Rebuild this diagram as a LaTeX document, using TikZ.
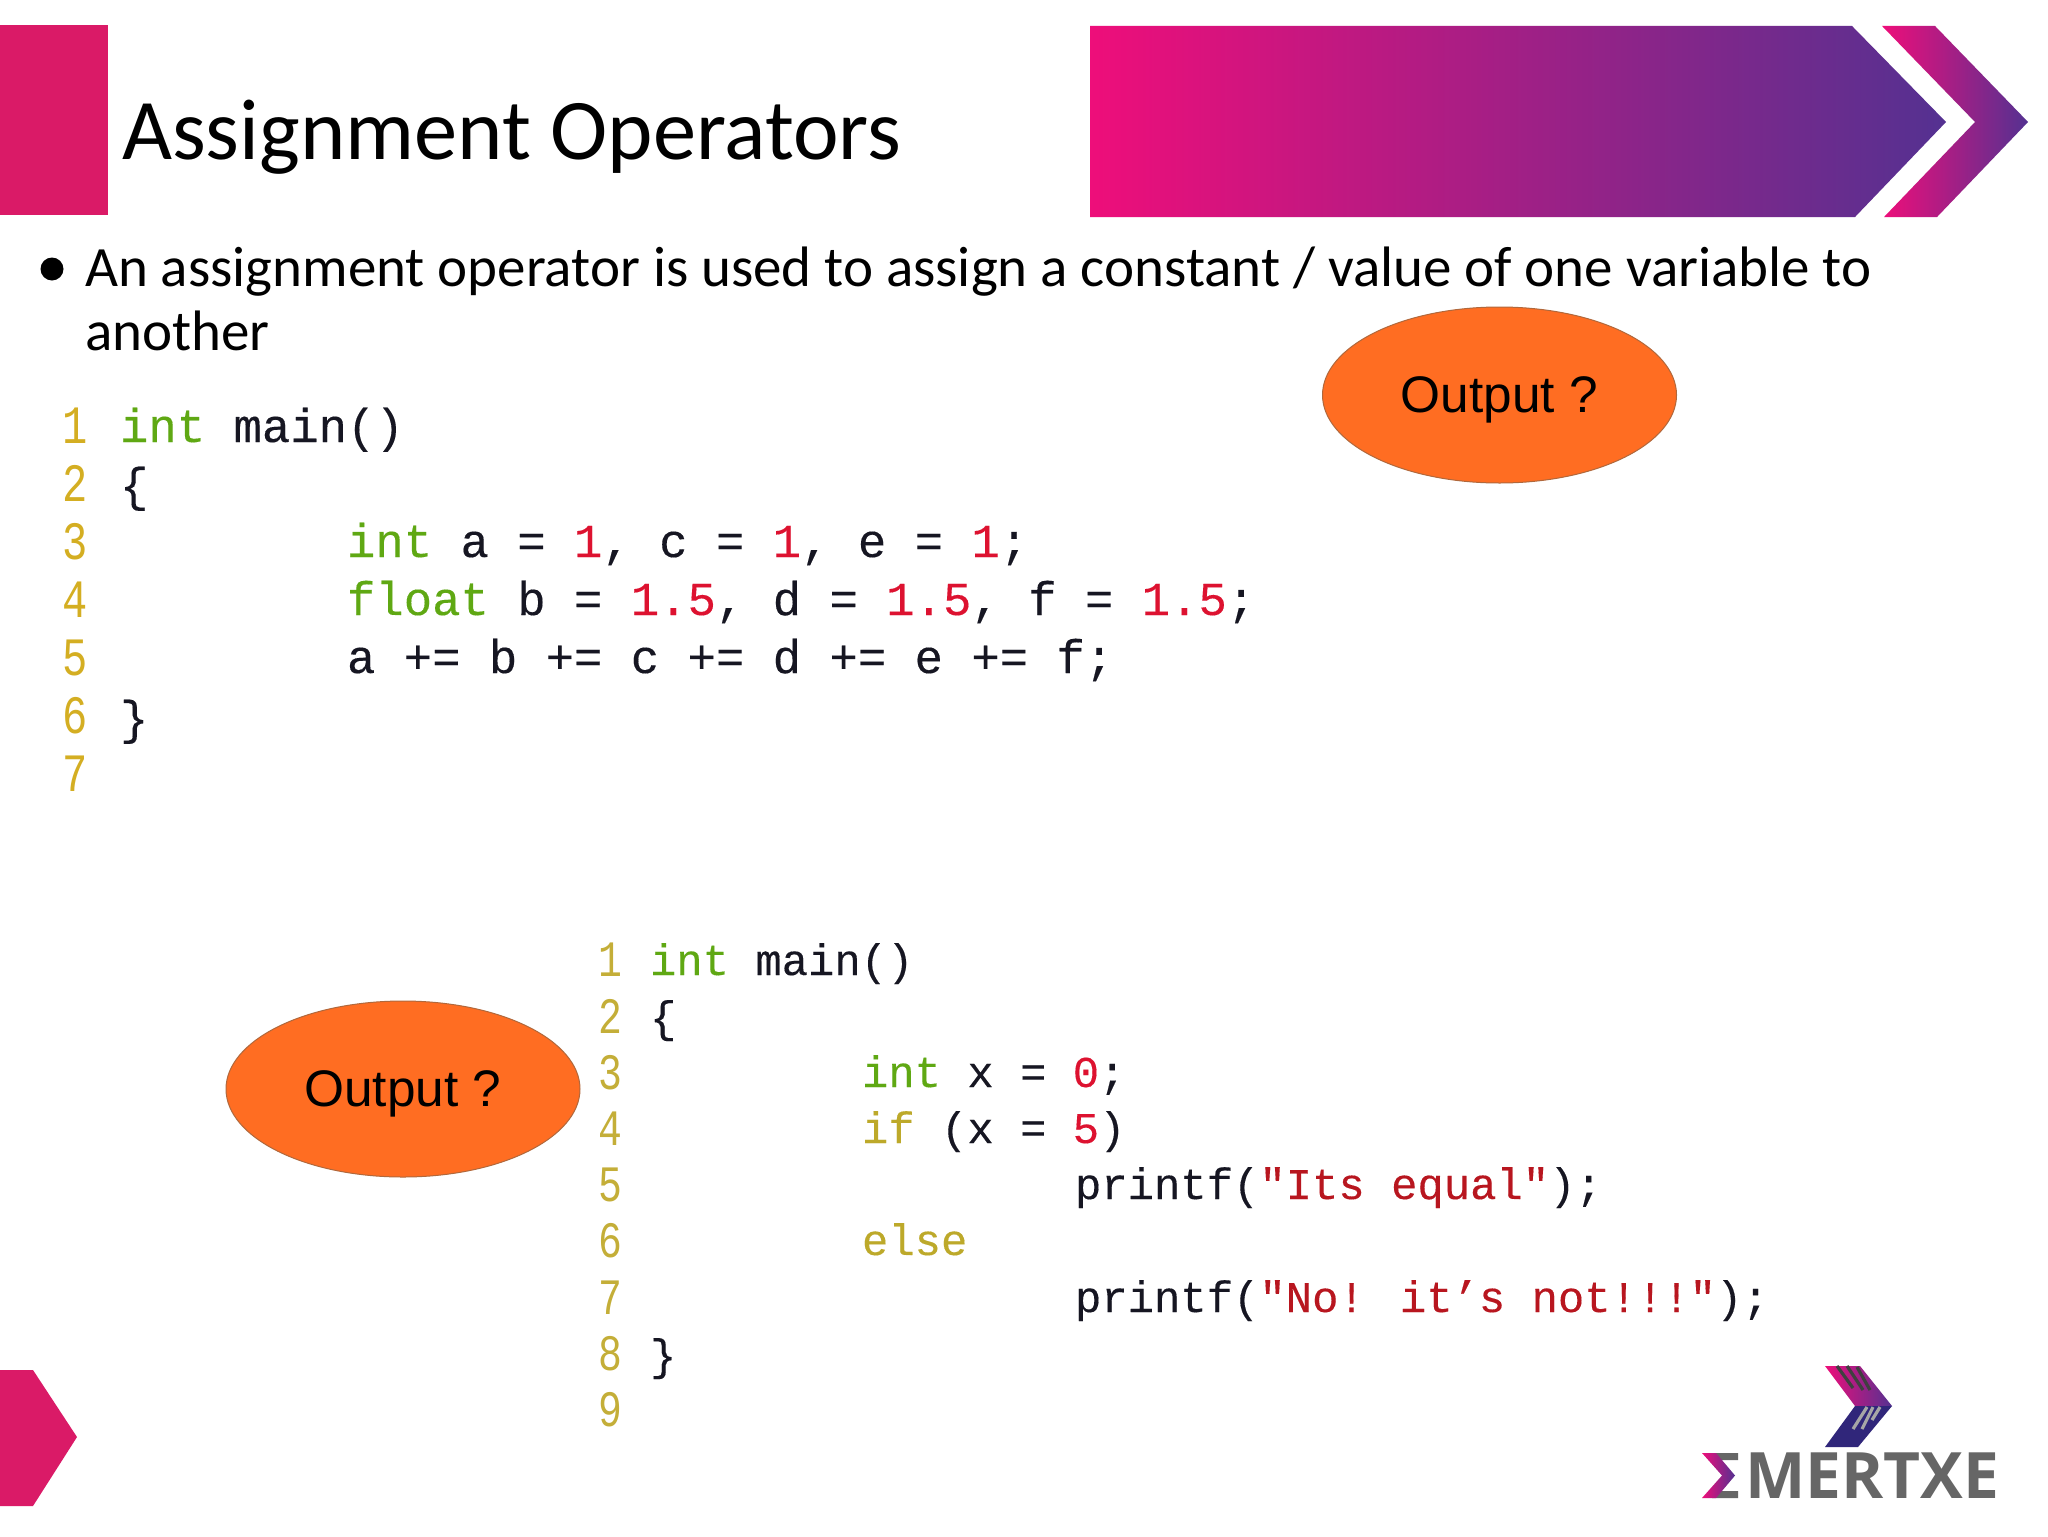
\documentclass[tikz,border=0pt]{standalone}
\usepackage{fontspec}
\setmainfont{Carlito}
\newfontfamily\bodyf{Carlito}
\newfontfamily\arialf{Liberation Sans}
\newfontfamily\codef[FakeBold=0.25]{Liberation Mono}
\newfontfamily\gutf[FakeStretch=0.78]{Liberation Mono}
\newfontfamily\logof{Open Sans}
\usetikzlibrary{shapes.geometric}
\definecolor{rosey}{HTML}{DA1A67}
\definecolor{pinkA}{HTML}{EE0E7A}
\definecolor{violetA}{HTML}{543191}
\definecolor{orangeA}{HTML}{FF6D22}
\definecolor{orangeB}{HTML}{B0683C}
\definecolor{gutter}{HTML}{D4AE22}
\definecolor{gutterB}{HTML}{C4AE38}
\definecolor{kw}{HTML}{5FA813}
\definecolor{kwB}{HTML}{BDA92A}
\definecolor{lit}{HTML}{DD1230}
\definecolor{strg}{HTML}{B8161F}
\definecolor{ink}{HTML}{161622}
\definecolor{logoviolet}{HTML}{30267A}
\newcommand{\K}[1]{\textcolor{kw}{#1}}
\newcommand{\Y}[1]{\textcolor{kwB}{#1}}
\newcommand{\N}[1]{\textcolor{lit}{#1}}
\newcommand{\St}[1]{\textcolor{strg}{#1}}
\tikzset{
  every node/.style={inner sep=0pt,outer sep=0pt},
  gutterup/.style={anchor=base west,text=gutter,font=\gutf\fontsize{27}{27}\selectfont},
  codeup/.style={anchor=base west,text=ink,font=\codef\fontsize{23.65}{23.65}\selectfont},
  gutterlo/.style={anchor=base west,text=gutterB,font=\gutf\fontsize{25.5}{25.5}\selectfont},
  codelo/.style={anchor=base west,text=ink,font=\codef\fontsize{21.95}{21.95}\selectfont},
  bubble/.style={ellipse,draw=orangeB,line width=0.5pt,fill=orangeA,minimum width=177pt,minimum height=88pt,text=black,text depth=0pt,font=\arialf\fontsize{25.7}{25.7}\selectfont},
  bodytext/.style={anchor=base west,text=black,font=\bodyf\fontsize{28.5}{28.5}\selectfont},
  logostripe/.style={line width=1.6pt,line cap=butt}
}
\begin{document}
\begin{tikzpicture}[x=0.5pt,y=-0.5pt]
\useasboundingbox (0,0) rectangle (2048,1536);
\fill[white] (0,0) rectangle (2048,1536);
% header
\fill[rosey] (0,25) rectangle (108,215);
\node[anchor=base west,font=\fontsize{43.2}{43.2}\selectfont] (title) at (122,159) {Assignment Operators};
\shade[left color=pinkA,right color=violetA] (1090,26) -- (1852,26) -- (1946,122) -- (1855,217) -- (1090,217) -- cycle;
\shade[left color=pinkA,right color=violetA] (1882,26) -- (1935,26) -- (2028,122) -- (1937,217) -- (1884,217) -- (1975,122) -- cycle;
% bullet
\fill[black] (52,269) circle (11.5);
\node[bodytext] (l1) at (85,286) {An assignment operator is used to assign a constant / value of one variable to};
\node[bodytext] (l2) at (85,350) {another};
% bubbles
\node[bubble] (o1) at (1499.5,395) {Output ?};
\node[bubble] (o2) at (403,1089) {Output ?};
% upper code
\node[gutterup] at (62,443) {1};
\node[gutterup] at (62,501) {2};
\node[gutterup] at (62,559) {3};
\node[gutterup] at (62,617) {4};
\node[gutterup] at (62,675) {5};
\node[gutterup] at (62,733) {6};
\node[gutterup] at (62,791) {7};
\node[codeup] at (120,442) {\K{int} main()};
\node[codeup] at (120,501) {\{};
\node[codeup] at (347,557) {\K{int} a = \N{1}, c = \N{1}, e = \N{1};};
\node[codeup] at (347,615) {\K{float} b = \N{1.5}, d = \N{1.5}, f = \N{1.5};};
\node[codeup] at (347,673) {a += b += c += d += e += f;};
\node[codeup] at (120,734) {\}};
% lower code
\node[gutterlo] at (598,976) {1};
\node[gutterlo] at (598,1033) {2};
\node[gutterlo] at (598,1089) {3};
\node[gutterlo] at (598,1145) {4};
\node[gutterlo] at (598,1201) {5};
\node[gutterlo] at (598,1257) {6};
\node[gutterlo] at (598,1314) {7};
\node[gutterlo] at (598,1370) {8};
\node[gutterlo] at (598,1426) {9};
\node[codelo] at (650,975) {\K{int} main()};
\node[codelo] at (650,1032) {\{};
\node[codelo] at (862,1087) {\K{int} x = \N{0};};
\node[codelo] at (862,1143) {\Y{if} (x = \N{5})};
\node[codelo] at (1075,1199) {printf(\St{"Its equal"});};
\node[codelo] at (862,1255) {\Y{else}};
\node[codelo] at (1075,1312) {printf(\St{"No! it’s not!!!"});};
\node[codelo] at (650,1370) {\}};
% corner tab
\fill[rosey] (0,1370) -- (33,1370) -- (77,1437) -- (33,1506) -- (0,1506) -- cycle;
% logo
\shade[left color=pinkA,right color=violetA] (1825,1366) -- (1860,1366) -- (1892,1406) -- (1855,1406) -- cycle;
\fill[logoviolet] (1855,1406) -- (1892,1406) -- (1858,1447) -- (1825,1447) -- cycle;
\draw[logostripe,draw=black!75] (1837,1366) -- (1853,1388);
\draw[logostripe,draw=black!75] (1847,1366) -- (1863,1390);
\draw[logostripe,draw=black!75] (1857,1367) -- (1870,1390);
\draw[logostripe,draw=gray!70] (1853,1429) -- (1867,1407);
\draw[logostripe,draw=gray!70] (1862,1429) -- (1873,1407);
\draw[logostripe,draw=gray!70] (1872,1420) -- (1880,1407);
% sigma
\fill[black!60] (1712,1453) -- (1738,1453) -- (1738,1460) -- (1720,1460) -- cycle;
\fill[black!60] (1712,1498) -- (1738,1498) -- (1738,1491) -- (1720,1491) -- cycle;
\shade[left color=pinkA,right color=violetA] (1702,1453) -- (1716,1453) -- (1735,1475.5) -- (1716,1498) -- (1702,1498) -- (1722,1475.5) -- cycle;
\node[anchor=base west,text=black!60,font=\logof\bfseries\fontsize{32}{32}\selectfont] (logo) at (1745,1498) {MERTXE};
\end{tikzpicture}
\end{document}
